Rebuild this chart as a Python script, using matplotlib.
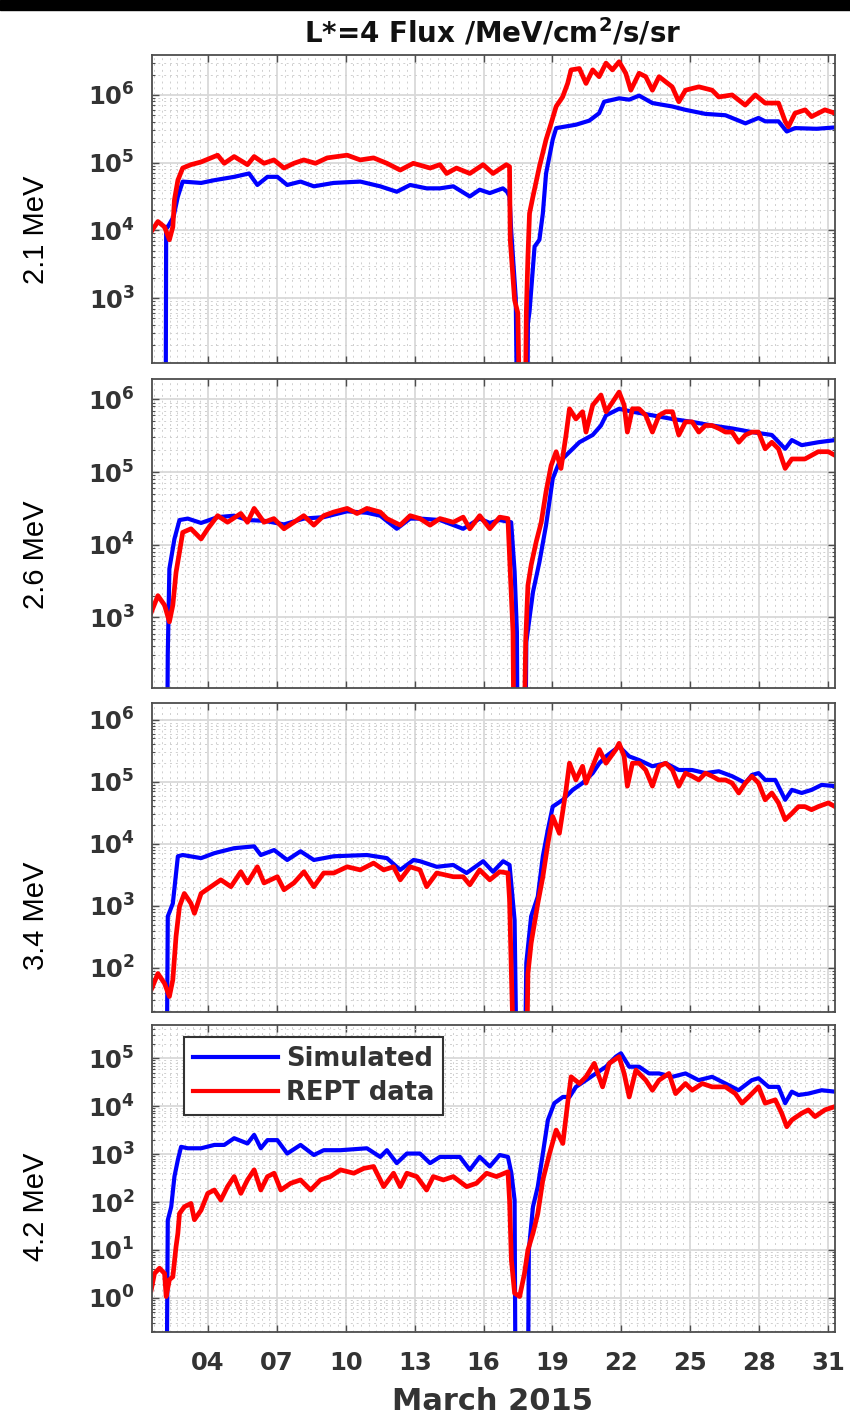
import numpy as np
import matplotlib
matplotlib.use("Agg")
import matplotlib.pyplot as plt
from matplotlib.ticker import FixedLocator, MultipleLocator, LogLocator, FuncFormatter, NullFormatter
from matplotlib.patches import Rectangle

plt.rcParams["font.family"] = ["DejaVu Sans"]
plt.rcParams["mathtext.fontset"] = "dejavusans"

# ── Data (day of March 2015, log10 flux) ─────────────────────────────────────
# 2.1 MeV
sim21_day = [1.55, 2.15, 2.18, 2.25, 2.5, 2.69, 2.9, 3.7, 4.27, 5.14, 5.79, 6.15, 6.59, 7.02,
             7.45, 8.03, 8.61, 9.47, 10.63, 11.5, 12.22, 12.8, 13.52, 14.1, 14.68, 15.4, 15.83,
             16.27, 16.84, 17.02, 17.13, 17.2, 17.4, 17.5, 17.88, 17.93, 18.0, 18.22, 18.43,
             18.58, 18.72, 19.01, 19.16, 20.02, 20.6, 21.03, 21.25, 21.9, 22.34, 22.77, 23.35,
             24.21, 24.79, 25.66, 26.53, 27.4, 27.97, 28.26, 28.84, 29.2, 29.56, 30.5, 31.3]
sim21_log = [0, 0, 4.05, 4.05, 4.2, 4.50, 4.72, 4.70, 4.74, 4.79, 4.84, 4.67, 4.79, 4.79,
             4.67, 4.72, 4.65, 4.70, 4.72, 4.65, 4.57, 4.67, 4.62, 4.62, 4.65, 4.50, 4.60,
             4.55, 4.62, 4.57, 4.50, 4.0, 3.0, 0, 0, 2.63, 2.8, 3.76, 3.86,
             4.25, 4.84, 5.34, 5.51, 5.56, 5.62, 5.73, 5.90, 5.95, 5.93, 5.99, 5.88,
             5.83, 5.78, 5.72, 5.70, 5.58, 5.66, 5.61, 5.61, 5.46, 5.51, 5.50, 5.52]
rept21_day = [1.53, 1.82, 2.11, 2.32, 2.47, 2.54, 2.69, 2.9, 3.26, 3.7, 4.42, 4.71, 5.14, 5.72,
              6.01, 6.44, 6.87, 7.31, 7.74, 8.17, 8.68, 9.19, 10.06, 10.63, 11.21, 11.79,
              12.37, 12.94, 13.67, 14.1, 14.39, 14.82, 15.4, 15.98, 16.41, 16.99, 17.13,
              17.16, 17.35, 17.49, 17.64, 17.78, 17.86, 17.93, 18.0, 18.15, 18.43, 18.72,
              18.94, 19.16, 19.44, 19.66, 19.81, 20.17, 20.46, 20.75, 21.03, 21.33, 21.61,
              21.9, 22.19, 22.41, 22.77, 23.06, 23.35, 23.64, 24.21, 24.5, 24.79, 25.37,
              25.95, 26.24, 26.82, 27.39, 27.83, 28.26, 28.84, 29.13, 29.27, 29.56, 30.0,
              30.28, 30.86, 31.3]
rept21_log = [3.98, 4.13, 4.05, 3.86, 4.05, 4.45, 4.74, 4.92, 4.97, 5.01, 5.11, 4.99, 5.09, 4.97,
              5.09, 4.99, 5.04, 4.92, 4.99, 5.04, 4.99, 5.07, 5.11, 5.04, 5.07, 4.99,
              4.89, 4.99, 4.92, 4.97, 4.84, 4.92, 4.84, 4.97, 4.84, 4.97, 4.94,
              3.86, 2.97, 2.78, 0, 0, 2.78, 3.61, 4.25, 4.50, 4.94, 5.34,
              5.58, 5.83, 5.97, 6.17, 6.37, 6.39, 6.17, 6.37, 6.27, 6.47, 6.37,
              6.49, 6.32, 6.07, 6.32, 6.27, 6.07, 6.27, 6.12, 5.90, 6.07, 6.12,
              6.07, 5.97, 6.0, 5.85, 6.0, 5.88, 5.88, 5.61, 5.53, 5.73, 5.78,
              5.68, 5.78, 5.73]

# 2.6 MeV
sim26_day = [1.55, 2.2, 2.25, 2.32, 2.54, 2.76, 3.12, 3.7, 4.42, 5.14, 5.72, 6.44, 7.31, 8.17,
             9.04, 10.06, 10.92, 11.5, 12.22, 12.8, 13.23, 14.1, 15.11, 15.83, 16.27, 16.7,
             17.2, 17.35, 17.45, 17.5, 17.79, 17.86, 18.15, 18.43, 18.72, 19.01, 19.3, 19.59,
             20.17, 20.75, 21.11, 21.33, 21.9, 22.48, 23.35, 24.22, 25.08, 25.95, 26.82,
             27.68, 28.55, 29.13, 29.42, 29.85, 30.57, 31.3]
sim26_log = [0, 0, 2.5, 3.67, 4.08, 4.34, 4.36, 4.30, 4.38, 4.40, 4.34, 4.33, 4.28, 4.36,
             4.38, 4.46, 4.44, 4.40, 4.22, 4.36, 4.36, 4.34, 4.22, 4.36, 4.30, 4.34,
             4.31, 3.63, 2.8, 0, 0, 2.66, 3.35, 3.76, 4.27, 4.91, 5.14, 5.23,
             5.41, 5.51, 5.64, 5.78, 5.87, 5.83, 5.78, 5.73, 5.69, 5.64, 5.60,
             5.55, 5.51, 5.32, 5.44, 5.37, 5.41, 5.44]
rept26_day = [1.53, 1.82, 2.11, 2.32, 2.47, 2.61, 2.76, 2.9, 3.26, 3.7, 3.99, 4.42, 4.85, 5.43,
              5.72, 6.01, 6.44, 6.87, 7.31, 7.74, 8.17, 8.61, 9.04, 9.47, 10.06, 10.49,
              10.92, 11.5, 11.79, 12.37, 12.8, 13.23, 13.67, 14.1, 14.68, 15.11, 15.4, 15.83,
              16.27, 16.7, 17.06, 17.16, 17.28, 17.35, 17.71, 17.83, 17.93, 18.07, 18.29,
              18.51, 18.72, 18.94, 19.16, 19.37, 19.59, 19.74, 20.02, 20.31, 20.46, 20.75,
              21.11, 21.33, 21.61, 21.9, 22.12, 22.26, 22.48, 22.77, 23.06, 23.35, 23.64,
              23.93, 24.22, 24.5, 24.79, 25.08, 25.37, 25.66, 25.95, 26.24, 26.53, 26.82,
              27.11, 27.4, 27.68, 27.97, 28.26, 28.55, 28.84, 29.13, 29.42, 29.71, 29.99,
              30.28, 30.57, 31.01, 31.3]
rept26_log = [3.07, 3.30, 3.17, 2.94, 3.17, 3.62, 3.90, 4.17, 4.22, 4.08, 4.22, 4.40, 4.31, 4.43,
              4.31, 4.50, 4.31, 4.36, 4.22, 4.31, 4.40, 4.27, 4.40, 4.45, 4.50, 4.43,
              4.50, 4.45, 4.36, 4.27, 4.40, 4.36, 4.27, 4.36, 4.31, 4.38, 4.22, 4.40,
              4.22, 4.38, 4.36, 3.63, 2.80, 0, 0, 2.66, 3.44, 3.72, 4.04,
              4.31, 4.73, 5.09, 5.28, 5.05, 5.51, 5.87, 5.73, 5.83, 5.55, 5.92,
              6.06, 5.83, 5.96, 6.10, 5.92, 5.55, 5.87, 5.87, 5.78, 5.55, 5.78,
              5.83, 5.83, 5.51, 5.69, 5.69, 5.55, 5.64, 5.64, 5.60, 5.55, 5.55,
              5.41, 5.51, 5.55, 5.55, 5.32, 5.41, 5.32, 5.05, 5.18, 5.18, 5.18,
              5.23, 5.28, 5.28, 5.23]

# 3.4 MeV
sim34_day = [1.55, 2.2, 2.25, 2.47, 2.69, 2.9, 3.7, 4.28, 5.14, 6.01, 6.3, 6.88, 7.45, 8.03,
             8.61, 9.48, 10.92, 11.79, 12.37, 12.95, 13.23, 13.96, 14.68, 15.26, 15.98, 16.41,
             16.85, 17.13, 17.35, 17.45, 17.79, 17.86, 18.07, 18.36, 18.58, 18.8, 19.01, 19.45,
             19.88, 20.31, 20.75, 21.04, 21.33, 21.9, 22.34, 22.77, 23.35, 23.93, 24.5, 25.08,
             25.66, 26.24, 26.82, 27.4, 27.68, 27.97, 28.26, 28.7, 29.13, 29.42, 29.85, 30.28,
             30.72, 31.3]
sim34_log = [0, 0, 2.83, 3.04, 3.80, 3.82, 3.77, 3.85, 3.93, 3.96, 3.82, 3.90, 3.74, 3.88,
             3.74, 3.80, 3.82, 3.77, 3.58, 3.74, 3.72, 3.63, 3.66, 3.53, 3.72, 3.55,
             3.72, 3.66, 2.77, 0, 0, 2.08, 2.83, 3.15, 3.80, 4.23, 4.60, 4.71,
             4.87, 4.98, 5.14, 5.30, 5.41, 5.57, 5.41, 5.35, 5.25, 5.30, 5.19, 5.19,
             5.14, 5.17, 5.09, 4.98, 5.11, 5.14, 5.03, 5.03, 4.71, 4.87, 4.82, 4.87,
             4.95, 4.93]
rept34_day = [1.53, 1.82, 2.11, 2.32, 2.47, 2.61, 2.76, 2.97, 3.26, 3.41, 3.7, 4.13, 4.56, 5.0,
              5.43, 5.72, 6.15, 6.44, 7.02, 7.31, 7.74, 8.18, 8.61, 9.04, 9.48, 10.06, 10.63,
              11.21, 11.65, 12.08, 12.37, 12.8, 13.23, 13.52, 13.96, 14.68, 15.11, 15.4,
              15.83, 16.27, 16.7, 17.06, 17.13, 17.21, 17.35, 17.86, 17.93, 18.07, 18.36,
              18.58, 18.8, 19.01, 19.3, 19.59, 19.74, 20.02, 20.31, 20.46, 20.75, 21.04,
              21.33, 21.76, 21.9, 22.12, 22.26, 22.48, 22.77, 23.06, 23.35, 23.64, 23.93,
              24.22, 24.5, 24.79, 25.08, 25.37, 25.66, 25.95, 26.24, 26.53, 26.82, 27.11,
              27.4, 27.68, 27.97, 28.26, 28.55, 28.84, 29.13, 29.42, 29.71, 29.99, 30.28,
              30.57, 31.01, 31.3]
rept34_log = [1.65, 1.91, 1.75, 1.54, 1.81, 2.51, 2.99, 3.20, 3.04, 2.88, 3.20, 3.31, 3.42, 3.31,
              3.55, 3.37, 3.63, 3.37, 3.47, 3.26, 3.37, 3.55, 3.31, 3.53, 3.53, 3.63, 3.58,
              3.69, 3.58, 3.63, 3.42, 3.63, 3.58, 3.31, 3.53, 3.47, 3.47, 3.34,
              3.58, 3.42, 3.55, 3.53, 3.10, 1.91, 0, 0, 1.91, 2.40, 3.04,
              3.47, 4.01, 4.44, 4.17, 4.87, 5.30, 5.03, 5.25, 4.98, 5.25, 5.52,
              5.30, 5.52, 5.62, 5.41, 4.93, 5.30, 5.30, 5.19, 4.93, 5.25, 5.30,
              5.19, 4.93, 5.14, 5.09, 5.03, 5.14, 5.09, 5.03, 5.03, 4.98, 4.82,
              4.98, 5.09, 4.98, 4.71, 4.82, 4.66, 4.39, 4.49, 4.60, 4.60, 4.55,
              4.60, 4.66, 4.60]

# 4.2 MeV
sim42_day = [1.55, 2.2, 2.25, 2.4, 2.54, 2.69, 2.83, 3.12, 3.7, 4.28, 4.71, 5.14, 5.72, 6.01,
             6.3, 6.59, 7.02, 7.45, 8.03, 8.61, 9.04, 9.77, 10.92, 11.5, 11.79, 12.22, 12.66,
             13.23, 13.67, 14.1, 14.97, 15.4, 15.83, 16.27, 16.7, 17.06, 17.21, 17.35, 17.39,
             17.93, 17.97, 18.15, 18.36, 18.58, 18.8, 19.08, 19.45, 19.74, 20.02, 20.46, 20.89,
             21.33, 21.76, 21.98, 22.34, 22.77, 23.2, 23.64, 24.22, 24.79, 25.36, 25.95, 26.53,
             27.1, 27.68, 27.97, 28.41, 28.84, 29.13, 29.42, 29.71, 30.14, 30.72, 31.3]
sim42_log = [-2, -2, 1.62, 1.90, 2.53, 2.88, 3.15, 3.12, 3.12, 3.19, 3.19, 3.33, 3.22, 3.40,
             3.12, 3.29, 3.29, 3.01, 3.19, 2.98, 3.08, 3.08, 3.12, 2.94, 3.08, 2.81, 3.01,
             3.01, 2.81, 2.94, 2.94, 2.67, 2.94, 2.74, 2.98, 2.94, 2.60, 2.04, -2,
             -2, 1.0, 1.90, 2.32, 3.01, 3.71, 4.06, 4.19, 4.19, 4.40, 4.54, 4.68,
             4.82, 5.03, 5.10, 4.82, 4.82, 4.68, 4.68, 4.61, 4.68, 4.54, 4.61, 4.47,
             4.33, 4.54, 4.58, 4.40, 4.40, 4.06, 4.30, 4.23, 4.26, 4.33, 4.30]
rept42_day = [1.53, 1.67, 1.89, 2.11, 2.18, 2.32, 2.47, 2.61, 2.69, 2.76, 2.97, 3.26, 3.41, 3.7,
              3.99, 4.28, 4.56, 4.85, 5.14, 5.43, 5.72, 6.01, 6.3, 6.59, 6.88, 7.17, 7.6,
              8.03, 8.47, 8.9, 9.33, 9.77, 10.35, 10.78, 11.21, 11.65, 12.08, 12.37, 12.66,
              13.09, 13.52, 13.81, 14.25, 14.68, 15.26, 15.69, 16.13, 16.56, 17.06, 17.13,
              17.21, 17.35, 17.57, 17.78, 17.93, 18.15, 18.36, 18.58, 18.87, 19.16, 19.45,
              19.66, 19.81, 20.17, 20.46, 20.82, 21.18, 21.47, 21.9, 22.12, 22.34, 22.63,
              23.06, 23.35, 23.64, 24.07, 24.36, 24.79, 25.08, 25.52, 25.95, 26.53, 26.96,
              27.25, 27.54, 27.97, 28.26, 28.7, 28.98, 29.2, 29.42, 29.85, 30.14, 30.43,
              30.86, 31.3]
rept42_log = [0.17, 0.51, 0.62, 0.51, 0.03, 0.38, 0.44, 1.07, 1.35, 1.76, 1.90, 1.97, 1.63, 1.83,
              2.18, 2.25, 2.04, 2.32, 2.53, 2.18, 2.46, 2.67, 2.25, 2.53, 2.60, 2.25, 2.39,
              2.46, 2.25, 2.46, 2.53, 2.67, 2.60, 2.70, 2.74, 2.32, 2.60, 2.32, 2.60,
              2.53, 2.25, 2.53, 2.46, 2.53, 2.32, 2.39, 2.60, 2.53, 2.63, 2.04,
              0.79, 0.10, 0.03, 0.51, 1.0, 1.35, 1.76, 2.46, 3.01, 3.50, 3.22,
              4.06, 4.61, 4.47, 4.61, 4.89, 4.40, 4.89, 5.03, 4.68, 4.19, 4.75,
              4.54, 4.33, 4.54, 4.68, 4.26, 4.47, 4.33, 4.47, 4.40, 4.40, 4.26,
              4.06, 4.19, 4.40, 4.06, 4.13, 3.85, 3.57, 3.71, 3.85, 3.92, 3.78,
              3.92, 3.99]

energies = ["2.1 MeV", "2.6 MeV", "3.4 MeV", "4.2 MeV"]
sim_days = [sim21_day, sim26_day, sim34_day, sim42_day]
sim_logs = [sim21_log, sim26_log, sim34_log, sim42_log]
rept_days = [rept21_day, rept26_day, rept34_day, rept42_day]
rept_logs = [rept21_log, rept26_log, rept34_log, rept42_log]
ylims_log = [(2.04, 6.59), (2.03, 6.28), (1.29, 6.27), (-0.71, 5.69)]
xticks = [4, 7, 10, 13, 16, 19, 22, 25, 28, 31]

# ── Figure ───────────────────────────────────────────────────────────────────
W, H = 850, 1415
fig = plt.figure(figsize=(W / 100, H / 100), dpi=100)

# axes boxes in pixels: (top, bottom)
boxes = [(55, 363), (379, 688), (703, 1012), (1025, 1332)]
label_y = [230, 555, 916, 1207]
left_px, right_px = 151.7, 835.0

TICK_C = "#333333"
axes = []
for i, (top, bot) in enumerate(boxes):
    ax = fig.add_axes([left_px / W, 1 - bot / H, (right_px - left_px) / W, (bot - top) / H])
    axes.append(ax)
    ax.plot(sim_days[i], np.power(10.0, sim_logs[i]), color="#0000ff", lw=3.0,
            label="Simulated")
    ax.plot(rept_days[i], np.power(10.0, rept_logs[i]), color="#ff0000", lw=3.4,
            label="REPT data")
    ax.set_yscale("log")
    ax.set_ylim(10 ** ylims_log[i][0], 10 ** ylims_log[i][1])
    ax.set_xlim(1.55, 31.3)

    ax.xaxis.set_major_locator(FixedLocator(xticks))
    ax.xaxis.set_minor_locator(MultipleLocator(1 / 3))
    ax.yaxis.set_major_locator(LogLocator(base=10, numticks=20))
    ax.yaxis.set_minor_locator(LogLocator(base=10, subs=np.arange(2, 10), numticks=50))
    ax.yaxis.set_minor_formatter(NullFormatter())
    ax.yaxis.set_major_formatter(FuncFormatter(
        lambda v, p: r"$\mathbf{10^{%d}}$" % int(round(np.log10(v)))))
    if i == 3:
        ax.xaxis.set_major_formatter(FuncFormatter(lambda v, p: "%02d" % int(round(v))))
    else:
        ax.set_xticklabels([])

    ax.grid(which="major", color="#d9d9d9", lw=1.3, ls="-")
    ax.grid(which="minor", color="#cfcfcf", lw=0.7, ls=(0, (2, 4)))
    ax.set_axisbelow(True)

    ax.tick_params(which="both", direction="in", top=True, right=True, colors="#4d4d4d")
    ax.tick_params(which="major", length=5, width=1.0, labelsize=17.5, labelcolor=TICK_C)
    ax.tick_params(axis="y", which="major", pad=12)
    ax.tick_params(axis="x", which="major", pad=14)
    ax.tick_params(axis="y", which="minor", length=2.5, width=0.8)
    ax.tick_params(axis="x", which="minor", length=0)
    for lab in ax.get_xticklabels() + ax.get_yticklabels():
        lab.set_fontweight("bold")
    for s in ax.spines.values():
        s.set_color("#4d4d4d")
        s.set_linewidth(1.3)

    fig.text(36 / W, 1 - label_y[i] / H, energies[i], rotation=90, ha="center", va="center",
             fontsize=21, family="Liberation Sans", color="black")

leg = axes[3].legend(loc="upper left", bbox_to_anchor=(0.048, 0.961), borderaxespad=0,
                     fancybox=False, framealpha=1, edgecolor="#333333",
                     prop={"weight": "bold", "size": 18.5},
                     handlelength=3.3, handletextpad=0.3, labelspacing=0.3, borderpad=0.35)
leg.get_frame().set_linewidth(1.5)
for t in leg.get_texts():
    t.set_color(TICK_C)
for h in leg.get_lines():
    h.set_linewidth(3)

fig.text(0.58, 1 - 33 / H, r"L*=4 Flux /MeV/cm$^{\mathbf{2}}$/s/sr", ha="center", va="center",
         fontsize=20, fontweight="bold", color="#111111")
fig.text(0.58, 1 - 1402 / H, "March 2015", ha="center", va="center",
         fontsize=22, fontweight="bold", color="#333333")

# black band along the top edge
fig.patches.append(Rectangle((0, 1 - 9.5 / H), 1, 9.5 / H, transform=fig.transFigure,
                             color="black", zorder=10))

fig.savefig("out.png", dpi=100, facecolor="white")
